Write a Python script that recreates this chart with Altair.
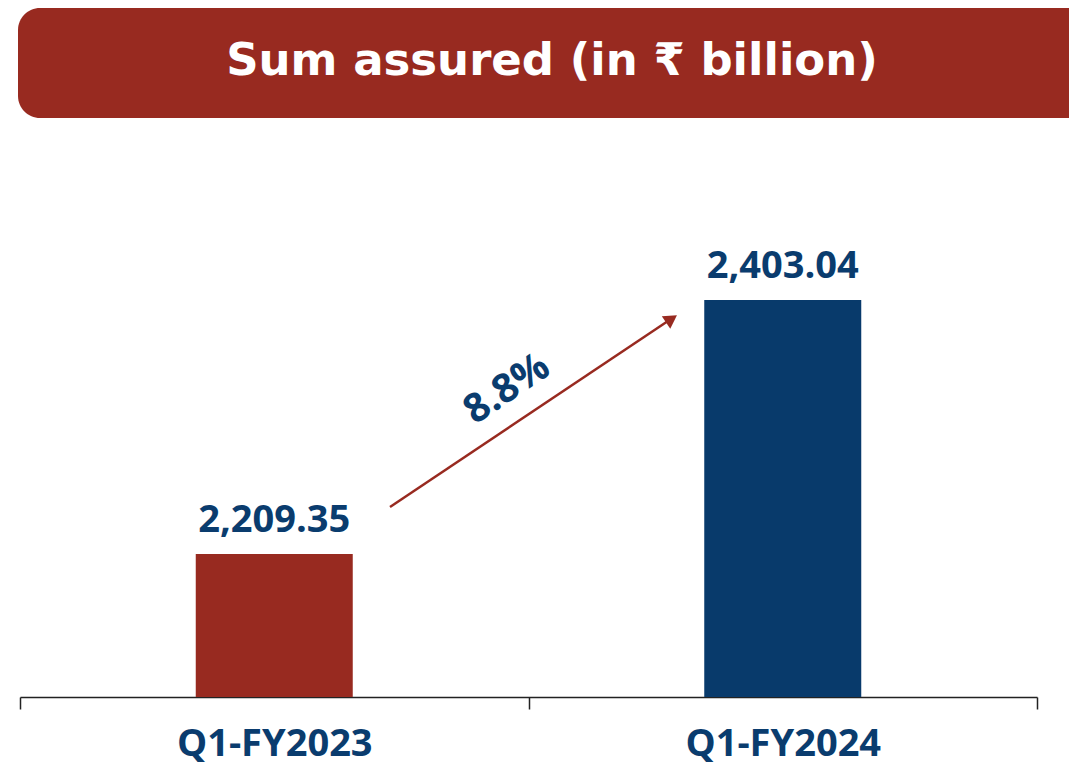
import altair as alt
import pandas as pd

# ---- data ----
categories = ["Q1-FY2023", "Q1-FY2024"]
values = [2209.35, 2403.04]
growth_label = "8.8%"
title_text = "Sum assured (in \u20b9 billion)"

RED = "#982a20"
BLUE = "#083a6b"
TEXT_BLUE = "#0a3c6e"

df = pd.DataFrame({"cat": categories, "val": values})
one = pd.DataFrame({"t": [title_text], "g": [growth_label]})

Y_MIN, Y_MAX = 2100.3, 2532.7
W, H = 1017, 567

x_enc = alt.X(
    "cat:N",
    sort=categories,
    scale=alt.Scale(paddingInner=0, paddingOuter=0),
    axis=alt.Axis(
        title=None,
        tickBand="extent",
        tickSize=12,
        tickColor="#222222",
        tickWidth=1.5,
        domainColor="#222222",
        domainWidth=1.5,
        labelFont="Open Sans",
        labelFontWeight="bold",
        labelFontSize=38,
        labelColor=TEXT_BLUE,
        labelBaseline="alphabetic",
        labelPadding=46,
        labelAngle=0,
        labelLimit=0,
    ),
)
y_scale = alt.Scale(domain=[Y_MIN, Y_MAX], zero=False, nice=False)

bars = alt.Chart(df).mark_bar(width=157).encode(
    x=x_enc,
    y=alt.Y("val:Q", scale=y_scale, axis=None),
    y2=alt.datum(Y_MIN),
    color=alt.Color("cat:N", scale=alt.Scale(domain=categories, range=[RED, BLUE]), legend=None),
)

labels = alt.Chart(df).mark_text(
    font="Open Sans", fontWeight="bold", fontSize=38, color=TEXT_BLUE,
    baseline="alphabetic", align="center", dy=-22,
).encode(
    x=alt.X("cat:N", sort=categories),
    y=alt.Y("val:Q", scale=y_scale),
    text=alt.Text("val:Q", format=",.2f"),
)

banner = alt.Chart(one).mark_rect(color=RED, cornerRadius=22).encode(
    x=alt.value(-2), x2=alt.value(1080), y=alt.value(-122), y2=alt.value(-12)
)
title = alt.Chart(one).mark_text(
    font="DejaVu Sans", fontWeight="bold", fontSize=45, color="white",
    align="center", baseline="alphabetic",
).encode(x=alt.value(532), y=alt.value(-55), text="t:N")

arrow_line = alt.Chart(one).mark_rule(color=RED, strokeWidth=2.5).encode(
    x=alt.value(370), y=alt.value(377), x2=alt.value(651), y2=alt.value(189)
)
arrow_head = alt.Chart(one).mark_point(
    shape="triangle-up", filled=True, color=RED, size=230, angle=56.3, opacity=1
).encode(x=alt.value(651.5), y=alt.value(188.8))

growth = alt.Chart(one).mark_text(
    font="Open Sans", fontWeight="bold", fontSize=40, color=TEXT_BLUE,
    align="center", baseline="middle", angle=326.2,
).encode(x=alt.value(487), y=alt.value(259), text="g:N")

chart = alt.layer(banner, title, bars, labels, arrow_line, arrow_head, growth).properties(
    width=W, height=H,
    background="white",
    autosize=alt.AutoSizeParams(type="none"),
    padding={"left": 12, "top": 122, "right": 32, "bottom": 71},
).configure_view(strokeWidth=0, stroke=None)

chart.save("out.html", embed_options={"renderer": "svg", "actions": False})
